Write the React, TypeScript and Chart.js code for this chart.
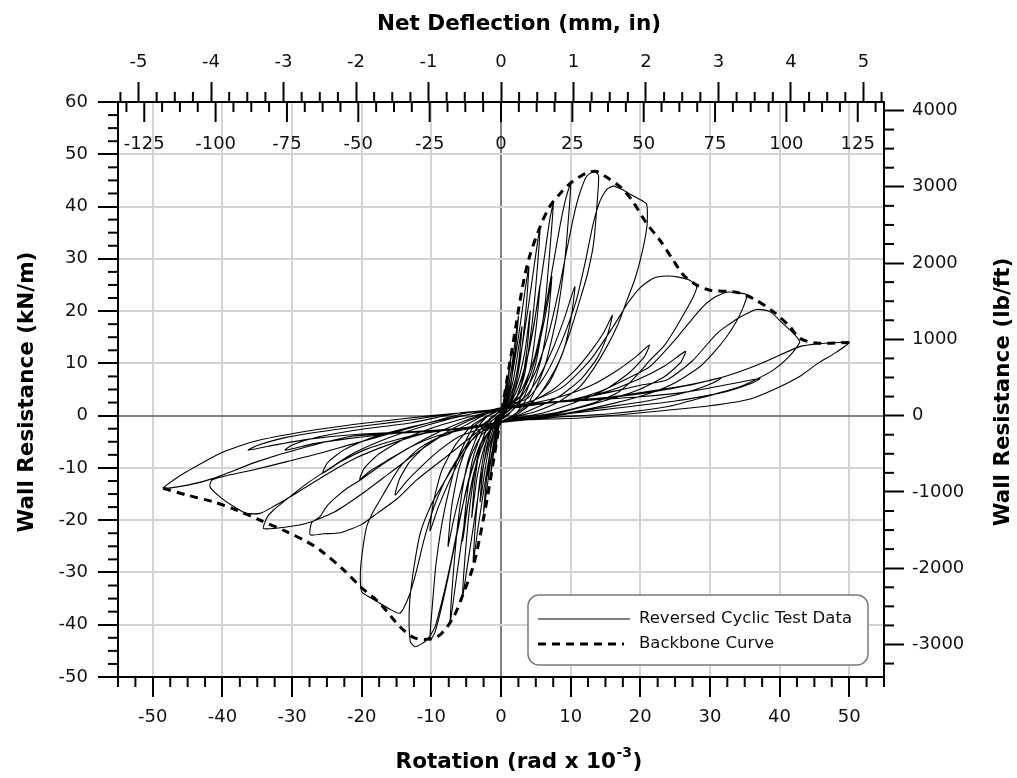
import React, { useEffect, useRef } from 'react';
import { Chart, registerables } from 'chart.js';

Chart.register(...registerables);

type Pt = [number, number];

// ---------- axis / label data ----------
const ROTATION_TICKS = [-50, -40, -30, -20, -10, 0, 10, 20, 30, 40, 50];
const KN_TICKS = [-50, -40, -30, -20, -10, 0, 10, 20, 30, 40, 50, 60];
const LBFT_TICKS = [-3000, -2000, -1000, 0, 1000, 2000, 3000, 4000];
const INCH_TICKS = [-5, -4, -3, -2, -1, 0, 1, 2, 3, 4, 5];
const MM_TICKS = [-125, -100, -75, -50, -25, 0, 25, 50, 75, 100, 125];
const LEGEND_LABELS = ['Reversed Cyclic Test Data', 'Backbone Curve'];
const TITLE_TOP = 'Net Deflection (mm, in)';
const TITLE_BOTTOM = ['Rotation (rad x 10', '-3', ')'];
const TITLE_LEFT = 'Wall Resistance (kN/m)';
const TITLE_RIGHT = 'Wall Resistance (lb/ft)';

const ROT_MIN = -55;
const ROT_MAX = 55;
const KN_MIN = -50;
const KN_MAX = 60;
const WALL_HEIGHT_MM = 2440;
const KNM_TO_LBFT = 68.5218;

// ---------- test data: [rotation (rad x 1e-3), resistance (kN/m)] ----------
const cycleA: Pt[] = [[0, 0], [0.4, 3], [0.8, 6.5], [0.5, 4], [0.1, 0.5], [-0.4, -3], [-0.8, -6.5], [-0.5, -4], [-0.1, -0.5]];
const cycleB: Pt[] = [[0.3, 1.5], [0.8, 5.5], [1.5, 12], [1.2, 8.5], [0.6, 3], [0, 0], [-0.8, -5], [-1.5, -11.5], [-1.2, -8], [-0.6, -2.5], [0, 0.3]];
const cycleC: Pt[] = [[0.6, 2.5], [1.5, 9], [2.5, 19], [2.1, 13], [1.3, 5], [0.3, 0.3], [-0.7, -3], [-1.5, -9], [-2.5, -18.5], [-2.1, -12.5], [-1.3, -4.5], [-0.3, -0.2]];
const cycleC2: Pt[] = [[0.6, 2], [1.9, 12], [1.5, 7], [0.6, 1.5], [-0.6, -2], [-1.9, -11.5], [-1.5, -6.5], [-0.6, -1.2]];
const cycleD: Pt[] = [[0.5, 1.5], [1.5, 7], [2.5, 15], [3.3, 22.5], [4, 28.5], [3.6, 20.5], [2.8, 11], [1.8, 4], [0.6, 0.5], [-0.5, -1.2], [-1.5, -6.5], [-2.5, -14.5], [-3.3, -21.5], [-4, -28], [-3.6, -19.5], [-2.8, -10], [-1.8, -3.5], [-0.6, -0.3]];
const cycleD2: Pt[] = [[0.6, 1.5], [1.8, 7], [3, 17], [2.6, 11], [1.6, 4], [0.4, 0.3], [-0.6, -1.5], [-1.8, -6.5], [-3, -16.5], [-2.6, -10.5], [-1.6, -3.5], [-0.4, -0.2]];
const cycleE: Pt[] = [[0.7, 1.5], [2, 6.5], [3, 13], [4, 21.5], [4.8, 29], [5.6, 36.1], [5.2, 28], [4.5, 18], [3.4, 8], [2, 2.5], [0.5, 0.2], [-0.8, -1.5], [-2, -6.5], [-3, -13], [-4, -21.5], [-4.8, -28.5], [-5.5, -34.5], [-5.1, -26], [-4.4, -16.5], [-3.3, -7.5], [-1.9, -2], [-0.5, 0]];
const cycleE2: Pt[] = [[0.8, 1.2], [2.2, 5.5], [3.4, 12], [4.2, 20], [3.8, 13.5], [3, 6.5], [1.6, 1.5], [0.2, 0], [-0.8, -1.2], [-2.2, -5.2], [-3.4, -11.5], [-4.2, -19.5], [-3.8, -13], [-3, -6], [-1.6, -1.3], [-0.2, 0]];
const cycleF: Pt[] = [[1, 1.5], [2.5, 5.5], [4, 12.5], [5.3, 22], [6.3, 31], [7, 37.5], [7.5, 40.5], [7.1, 33], [6.3, 21], [5, 10], [3.3, 3.5], [1.5, 0.8], [0, -0.6], [-1, -1.6], [-2.5, -5], [-4, -11.5], [-5.3, -21], [-6.3, -30], [-7, -37], [-7.3, -39.5], [-6.9, -31], [-6.1, -19.5], [-4.8, -9], [-3.1, -3], [-1.3, -0.2], [0, 0.8]];
const cycleF2: Pt[] = [[0.8, 1.4], [2.2, 4.5], [3.6, 10], [4.7, 17], [5.6, 25], [5.1, 17.5], [4.2, 9], [2.6, 2.8], [1, 0.1], [0, -0.8], [-0.8, -1.3], [-2.2, -4.3], [-3.6, -9.5], [-4.7, -16.5], [-5.5, -24], [-5, -16.5], [-4.1, -8.5], [-2.5, -2.5], [-1, 0], [0, 1]];
const cycleG: Pt[] = [[1.2, 2], [3, 5], [4.8, 11], [6.3, 20], [7.5, 29], [8.5, 36.5], [9.3, 41.5], [10, 44.4], [9.7, 38], [9.1, 29], [8, 19], [6.3, 9.5], [4, 2.5], [2, 0.3], [0, -1.2], [-1.2, -2.2], [-3, -5.5], [-4.8, -13], [-6.3, -22.5], [-7.6, -31], [-8.6, -37], [-9.5, -41.5], [-10.2, -43], [-9.9, -37], [-9.3, -28], [-8.1, -18], [-6.3, -8.5], [-4, -2.2], [-2, -0.2], [0, 1.2]];
const cycleG2: Pt[] = [[1, 2], [2.8, 3.8], [4.4, 8.5], [5.7, 15], [6.7, 21.5], [7.3, 26.6], [6.8, 19], [5.8, 11], [4.2, 4.5], [2.2, 0.5], [0, -1.2], [-1, -1.9], [-2.8, -3.7], [-4.4, -8], [-5.8, -14.5], [-6.9, -20.5], [-7.6, -25], [-7.1, -17.5], [-6, -10], [-4.3, -4], [-2.2, -0.4], [0, 1.2]];
const cycleH: Pt[] = [[1.2, 2], [3, 3.8], [5, 8.5], [6.8, 15.5], [8.3, 24], [9.5, 32], [10.5, 38.5], [11.3, 42.5], [12.3, 45.8], [13.3, 46.7], [14, 46], [13.8, 40.6], [13.3, 33], [12.4, 27], [11.3, 22], [9.8, 15.5], [8, 9.4], [5.5, 4], [2.5, 0.4], [0, -1.3], [-1.2, -2.4], [-2.8, -5.2], [-4.3, -11], [-5.9, -19.5], [-7.2, -28], [-8.3, -34.5], [-9.5, -40.5], [-10.7, -43], [-12.3, -44.2], [-13, -43.3], [-13.2, -40], [-13.1, -35.3], [-12.5, -29], [-11.6, -22.5], [-10, -17], [-8.3, -13], [-6, -8], [-3.5, -2.6], [-1, -0.2], [0, 1.2]];
const cycleH2: Pt[] = [[1.5, 2], [3.5, 3.6], [5.5, 7.5], [7.5, 13], [9.2, 19], [10.6, 24.7], [10.1, 19], [9, 12.5], [7, 6.5], [4.5, 2.5], [2, 0], [0, -1.3], [-1.5, -2.3], [-3.5, -3.6], [-5.5, -7.5], [-7.4, -12.5], [-9, -17.5], [-10.2, -22], [-9.7, -16.5], [-8.5, -10.5], [-6.5, -5.5], [-4, -1.7], [-1.5, 0.3], [0, 1.2]];
const cycleI: Pt[] = [[1.5, 2], [4, 3.5], [6.5, 8], [8.8, 14.5], [10.8, 22], [12.2, 30], [13.2, 36.5], [14.2, 41], [15.2, 43.3], [16.2, 43.9], [17.5, 43.2], [18.5, 42.4], [19.6, 41.6], [20.9, 40.5], [21, 37], [20.7, 34], [20, 29.8], [19.2, 26], [18.1, 22.1], [16.8, 17.5], [15.2, 13.2], [13.3, 9], [11.3, 5.5], [8.5, 2.8], [5, 0.8], [2, -0.3], [0, -1.4], [-2.5, -2.8], [-5, -5.8], [-7.5, -11], [-9.5, -17], [-11, -23.5], [-12.2, -30], [-13.2, -34.5], [-14.5, -37.8], [-16, -37], [-17.4, -35.9], [-18.8, -34.8], [-20, -33.7], [-20.2, -30.2], [-19.9, -26], [-19.3, -21.3], [-18.4, -18.5], [-17.4, -16.2], [-16, -13], [-14.5, -9.8], [-12, -6.5], [-9.5, -4.5], [-7.3, -3.4], [-4.5, -1.4], [-2, 0.4], [0, 1.4]];
const cycleI2: Pt[] = [[1.5, 1.8], [4.5, 2.8], [7.5, 5], [10.5, 8.5], [13, 12.5], [14.8, 16], [16, 19.2], [15.3, 15.5], [13.8, 11], [11.5, 7], [8.5, 3.8], [5, 1.5], [2, -0.2], [0, -1.3], [-3, -2.6], [-6, -4], [-9, -6.8], [-11.5, -9.8], [-13.5, -12.5], [-15.2, -15.2], [-14.6, -12.2], [-13.2, -9], [-11, -6], [-8, -3.3], [-4.5, -0.9], [-1.5, 0.6], [0, 1.4]];
const cycleJ: Pt[] = [[1, 1.6], [4, 2.6], [8.9, 5.5], [12.8, 10.6], [16.1, 17], [18.2, 21.5], [20, 24.5], [21.9, 26.3], [23.8, 26.7], [25.5, 26.5], [27.1, 25.9], [28.1, 24.7], [27.6, 22.7], [26.5, 20], [25.2, 17], [23.5, 13.5], [21.4, 10.6], [19, 7], [16.6, 4.3], [13, 2.3], [8, 0.6], [3, -0.4], [0, -1.3], [-2.5, -2.3], [-4.9, -4.7], [-8, -8], [-12.1, -12.3], [-15, -16], [-17.8, -18.7], [-20, -20.8], [-23.1, -22.4], [-25.5, -22.6], [-27.4, -22.8], [-27.2, -20.5], [-26, -19.3], [-25, -17.3], [-23.6, -15.5], [-22, -13.8], [-20.2, -12.3], [-17, -9.3], [-13, -6], [-9, -3.2], [-5, -0.9], [-2, 0.6], [0, 1.4]];
const cycleJ2: Pt[] = [[1.5, 1.7], [5, 2.5], [9, 3.8], [13, 5.8], [16.5, 8.5], [19.3, 11.2], [21.3, 13.5], [20.6, 11.3], [18.5, 8.3], [15, 5], [11, 2.7], [6, 0.5], [2, -0.5], [0, -1.2], [-1.5, -1.8], [-5, -2.6], [-9, -3.8], [-13, -6], [-16.5, -8.7], [-18.8, -10.6], [-20.3, -12.2], [-19.6, -10], [-17.5, -7.3], [-14, -4.5], [-10, -2.4], [-5, -0.4], [-1.5, 0.8], [0, 1.5]];
const cycleK: Pt[] = [[2, 1.5], [5, 2.1], [10, 3], [14.2, 4.6], [18, 7], [21.4, 9.4], [25, 14.5], [28.6, 20.3], [30.5, 22.5], [32.4, 23.6], [34, 23.5], [35.3, 23.1], [34.8, 20.8], [33.8, 18], [32.4, 15.1], [30.5, 12], [28.6, 9.4], [25, 6.3], [21.4, 4.3], [16, 2.3], [10, 0.6], [4, -0.5], [0, -1.2], [-4, -2], [-8, -3.5], [-12, -7], [-16, -11], [-20, -15], [-24, -18.5], [-27.9, -20.6], [-30.8, -21.3], [-34.1, -21.6], [-33.6, -19.5], [-32.7, -18.1], [-30.3, -15.5], [-27.9, -13], [-24.5, -10], [-21.2, -7.2], [-16, -4.2], [-10, -1.6], [-4, 0.4], [0, 1.2]];
const cycleK2: Pt[] = [[1, 1.6], [5, 2.3], [10, 3], [15, 4.5], [19.5, 6.8], [23.5, 9.5], [26.5, 12.3], [25.8, 10.2], [23.5, 7.5], [19.5, 4.8], [14, 2.5], [8, 0.4], [3, -0.6], [0, -1.3], [-5, -2.4], [-10, -3.1], [-15, -4.6], [-19.5, -6.5], [-23, -8.8], [-25.6, -11], [-24.9, -9], [-22.5, -6.5], [-18.5, -4.2], [-13, -2.2], [-7, -0.4], [-2, 0.9], [0, 1.5]];
const cycleL: Pt[] = [[2, 1.6], [6, 2.3], [11, 3.2], [16, 4.6], [20, 5.8], [23.8, 6.8], [27.5, 10.5], [31, 15.7], [34, 18.6], [36.7, 20.3], [38.6, 19.9], [40.5, 17.6], [42.1, 15.6], [42.9, 14.1], [41.5, 11.5], [39.1, 8.7], [36.6, 6.9], [34.3, 5.5], [29, 3.5], [23.8, 1.7], [16, 0.4], [8, -0.3], [2, -1], [0, -1.3], [-2, -1.7], [-6, -2.5], [-11, -3.4], [-16, -5.5], [-21, -8.2], [-25, -11.2], [-29, -14.5], [-32.7, -17.4], [-34.6, -18.7], [-36.6, -18.7], [-38.5, -17.3], [-40.4, -15.5], [-41.8, -13.6], [-41.5, -12.3], [-38.5, -11.2], [-35.6, -10.4], [-30.5, -8.7], [-26, -7.2], [-21.5, -5.5], [-17.4, -4], [-11, -1.6], [-5, 0.5], [0, 1.3]];
const cycleL2: Pt[] = [[5, 2.2], [10, 2.8], [16, 3.5], [22, 4.6], [27, 5.8], [31.7, 7.3], [30.5, 6.3], [27, 4.6], [21, 2.8], [14, 1.4], [7, -0.2], [1, -1.1], [0, -1.3], [-4, -2.2], [-10, -3], [-16, -3.5], [-22, -4.4], [-27, -5.4], [-31, -6.6], [-30, -5.6], [-26, -4], [-20, -2.6], [-13, -1.4], [-6, 0.5], [0, 1.2]];
const cycleM: Pt[] = [[5, 2.3], [10, 2.9], [16, 3.6], [22, 4.8], [27, 5.9], [31.9, 7.4], [37, 9.8], [42.9, 13.2], [46, 13.8], [48.5, 14], [50, 14], [48, 12], [45.5, 10], [43, 7.6], [39.5, 5.2], [35.8, 3.2], [30, 1.9], [22, 0.8], [12, -0.4], [4, -0.8], [0, -1.2], [-5, -2.3], [-10, -3], [-15.5, -3.4], [-21.2, -3.9], [-28, -6], [-35, -8.8], [-41.3, -12], [-45, -13.3], [-48.5, -13.9], [-47, -12.3], [-45.1, -10.7], [-40.3, -7.2], [-35.6, -5], [-28, -3], [-20, -1.5], [-10, 0], [-2, 1], [0, 1.4]];
const cycleM2: Pt[] = [[5, 2.3], [12, 2.9], [20, 3.6], [27, 4.6], [32, 5.8], [37.2, 7.1], [36, 6.2], [32, 4.5], [25, 2.8], [15, 1.2], [6, -0.2], [0, -1.2], [-5, -2.3], [-12, -3], [-20, -3.5], [-27, -4.4], [-32, -5.5], [-36.3, -6.6], [-35, -5.7], [-31, -4.2], [-24, -2.7], [-15, -1.2], [-6, 0.5], [0, 1]];

const backbone: Pt[] = [[-48.5, -13.9], [-45.1, -15.2], [-41.3, -16.5], [-37.9, -18.1], [-34.6, -20], [-30.8, -22.2], [-27.9, -24.1], [-26, -25.7], [-22.6, -29.5], [-20.2, -32.7], [-17.4, -35.9], [-14.5, -40.4], [-12.6, -42.4], [-10.7, -42.8], [-8.8, -42], [-6.8, -38.5], [-5.4, -34], [-4, -28.9], [-3, -23], [-2, -16], [-1, -8], [0, 0], [1, 8], [2, 16], [3, 24], [4, 30], [5.6, 36.1], [7, 40], [8.5, 42.5], [9.9, 44.4], [11.3, 45.7], [12.5, 46.5], [13.7, 46.7], [15.3, 45.5], [17.1, 43.8], [18.8, 41.2], [20.9, 36.8], [22.8, 33.6], [24.7, 29.8], [26.2, 26.9], [28.1, 25], [30, 24], [33.8, 23.6], [36.2, 22.4], [39.1, 19.9], [41.5, 17], [42.9, 14.8], [45.3, 13.9], [50.1, 14]];

const testCycles: Pt[][] = [cycleA, cycleB, cycleC, cycleC2, cycleD, cycleD2, cycleE, cycleE2, cycleF, cycleF2, cycleG, cycleG2, cycleH, cycleH2, cycleI, cycleI2, cycleJ, cycleJ2, cycleK, cycleK2, cycleL, cycleL2, cycleM, cycleM2];

const FONT = 'DejaVu Sans';

const decorPlugin = {
  id: 'decor',
  beforeDraw(chart: any) {
    const ctx = chart.ctx;
    ctx.save();
    ctx.fillStyle = '#ffffff';
    ctx.fillRect(0, 0, chart.width, chart.height);
    ctx.restore();
  },
  afterDraw(chart: any) {
    const ctx: CanvasRenderingContext2D = chart.ctx;
    const { left, right, top, bottom } = chart.chartArea;
    const sx = chart.scales.x;
    const sy = chart.scales.y;
    const sy2 = chart.scales.y2;
    const sin = chart.scales.xin;
    ctx.save();
    ctx.strokeStyle = '#000';
    ctx.lineWidth = 2;
    const seg = (x1: number, y1: number, x2: number, y2: number) => {
      ctx.beginPath();
      ctx.moveTo(x1, y1);
      ctx.lineTo(x2, y2);
      ctx.stroke();
    };
    // bottom minor ticks (every 2.5)
    for (let i = -22; i <= 22; i++) {
      if (i % 4 === 0) continue;
      const px = sx.getPixelForValue(i * 2.5);
      seg(px, bottom, px, bottom + 10);
    }
    // left minor ticks
    for (let i = -20; i <= 24; i++) {
      if (i % 4 === 0) continue;
      const py = sy.getPixelForValue(i * 2.5);
      seg(left - 10, py, left, py);
    }
    // right minor ticks (every 250 lb/ft)
    for (let i = -13; i <= 16; i++) {
      if (i % 4 === 0) continue;
      const py = sy2.getPixelForValue(i * 250);
      seg(right, py, right + 10, py);
    }
    // top inch minor ticks
    for (let i = -21; i <= 21; i++) {
      if (i % 4 === 0) continue;
      const px = sin.getPixelForValue(i * 0.25);
      seg(px, top - 10, px, top);
    }
    // mm ticks pointing into the plot
    for (let i = -21; i <= 21; i++) {
      const mm = i * 6.25;
      const px = sx.getPixelForValue((mm / WALL_HEIGHT_MM) * 1000);
      seg(px, top, px, top + (i % 4 === 0 ? 20 : 10));
    }
    // mm labels
    ctx.fillStyle = '#111';
    ctx.font = `18px "${FONT}"`;
    ctx.textAlign = 'center';
    ctx.textBaseline = 'middle';
    for (const mm of MM_TICKS) {
      const px = sx.getPixelForValue((mm / WALL_HEIGHT_MM) * 1000);
      ctx.fillText(String(mm), px, top + 42);
    }

    // titles
    ctx.fillStyle = '#000';
    ctx.font = `bold 21.5px "${FONT}"`;
    ctx.textAlign = 'center';
    ctx.textBaseline = 'alphabetic';
    ctx.fillText(TITLE_TOP, 519, 29.5);

    // bottom title with superscript
    const mainFont = `bold 21.5px "${FONT}"`;
    const supFont = `bold 14px "${FONT}"`;
    ctx.font = mainFont;
    const w1 = ctx.measureText(TITLE_BOTTOM[0]).width;
    const w3 = ctx.measureText(TITLE_BOTTOM[2]).width;
    ctx.font = supFont;
    const w2 = ctx.measureText(TITLE_BOTTOM[1]).width;
    let bx = 519 - (w1 + w2 + w3 + 1) / 2;
    ctx.textAlign = 'left';
    ctx.font = mainFont;
    ctx.fillText(TITLE_BOTTOM[0], bx, 768);
    bx += w1 + 0.5;
    ctx.font = supFont;
    ctx.fillText(TITLE_BOTTOM[1], bx, 757);
    bx += w2 + 0.5;
    ctx.font = mainFont;
    ctx.fillText(TITLE_BOTTOM[2], bx, 768);

    // vertical titles
    ctx.textAlign = 'center';
    ctx.save();
    ctx.translate(33, 392);
    ctx.rotate(-Math.PI / 2);
    ctx.fillText(TITLE_LEFT, 0, 0);
    ctx.restore();
    ctx.save();
    ctx.translate(1009, 392);
    ctx.rotate(-Math.PI / 2);
    ctx.fillText(TITLE_RIGHT, 0, 0);
    ctx.restore();

    // legend box
    const lx = right - 356;
    const ly = bottom - 82;
    const lw = 340;
    const lh = 70;
    const r = 11;
    ctx.beginPath();
    ctx.moveTo(lx + r, ly);
    ctx.lineTo(lx + lw - r, ly);
    ctx.arcTo(lx + lw, ly, lx + lw, ly + r, r);
    ctx.lineTo(lx + lw, ly + lh - r);
    ctx.arcTo(lx + lw, ly + lh, lx + lw - r, ly + lh, r);
    ctx.lineTo(lx + r, ly + lh);
    ctx.arcTo(lx, ly + lh, lx, ly + lh - r, r);
    ctx.lineTo(lx, ly + r);
    ctx.arcTo(lx, ly, lx + r, ly, r);
    ctx.closePath();
    ctx.fillStyle = '#fff';
    ctx.fill();
    ctx.strokeStyle = '#7a7a7a';
    ctx.lineWidth = 1.5;
    ctx.stroke();

    ctx.strokeStyle = '#000';
    ctx.lineWidth = 1;
    seg(lx + 10, ly + 24, lx + 102, ly + 24);
    ctx.lineWidth = 3;
    ctx.setLineDash([8, 6]);
    seg(lx + 10, ly + 49, lx + 96, ly + 49);
    ctx.setLineDash([]);

    ctx.fillStyle = '#111';
    ctx.font = `16.5px "${FONT}"`;
    ctx.textAlign = 'left';
    ctx.textBaseline = 'middle';
    ctx.fillText(LEGEND_LABELS[0], lx + 111, ly + 24);
    ctx.fillText(LEGEND_LABELS[1], lx + 111, ly + 49);
    ctx.restore();
  },
};

const gridColor = (c: any) => (c.tick && c.tick.value === 0 ? '#808080' : '#d4d4d4');

export default function App() {
  const ref = useRef<HTMLCanvasElement>(null);

  useEffect(() => {
    document.body.style.margin = '0';
    const testPoints = testCycles.flat().map(([x, y]) => ({ x, y }));
    const backbonePoints = backbone.map(([x, y]) => ({ x, y }));
    const inchRange = (ROT_MAX * WALL_HEIGHT_MM) / 1000 / 25.4;
    const tickFont = { family: FONT, size: 18 };

    const chart = new Chart(ref.current as HTMLCanvasElement, {
      type: 'scatter',
      data: {
        datasets: [
          {
            label: LEGEND_LABELS[0],
            data: testPoints,
            showLine: true,
            borderColor: '#000',
            borderWidth: 1.1,
            pointRadius: 0,
            tension: 0.2,
            order: 2,
            xAxisID: 'x',
            yAxisID: 'y',
          },
          {
            label: LEGEND_LABELS[1],
            data: backbonePoints,
            showLine: true,
            borderColor: '#000',
            borderWidth: 3,
            borderDash: [8, 6],
            pointRadius: 0,
            tension: 0.3,
            order: 1,
            xAxisID: 'x',
            yAxisID: 'y',
          },
        ],
      },
      options: {
        responsive: false,
        animation: false,
        devicePixelRatio: 1,
        layout: { padding: 0, autoPadding: false },
        plugins: { legend: { display: false }, tooltip: { enabled: false } },
        scales: {
          x: {
            type: 'linear',
            position: 'bottom',
            min: ROT_MIN,
            max: ROT_MAX,
            afterBuildTicks: (s: any) => {
              s.ticks = ROTATION_TICKS.map((v) => ({ value: v }));
            },
            afterFit: (s: any) => {
              s.height = 101;
            },
            ticks: { font: tickFont, color: '#111', padding: 10, maxRotation: 0, autoSkip: false, callback: (v: any) => String(v) },
            grid: { color: gridColor, lineWidth: 2, tickLength: 20, tickColor: '#000', tickWidth: 2 },
            border: { color: '#000', width: 2 },
          },
          xin: {
            type: 'linear',
            position: 'top',
            min: -inchRange,
            max: inchRange,
            afterBuildTicks: (s: any) => {
              s.ticks = INCH_TICKS.map((v) => ({ value: v }));
            },
            afterFit: (s: any) => {
              s.height = 102;
            },
            ticks: { font: tickFont, color: '#111', padding: 9, maxRotation: 0, autoSkip: false, callback: (v: any) => String(v) },
            grid: { drawOnChartArea: false, tickLength: 20, tickColor: '#000', tickWidth: 2 },
            border: { color: '#000', width: 2 },
          },
          y: {
            type: 'linear',
            position: 'left',
            min: KN_MIN,
            max: KN_MAX,
            afterBuildTicks: (s: any) => {
              s.ticks = KN_TICKS.map((v) => ({ value: v }));
            },
            afterFit: (s: any) => {
              s.width = 118;
            },
            ticks: { font: tickFont, color: '#111', padding: 10, autoSkip: false, callback: (v: any) => String(v) },
            grid: { color: gridColor, lineWidth: 2, tickLength: 20, tickColor: '#000', tickWidth: 2 },
            border: { color: '#000', width: 2 },
          },
          y2: {
            type: 'linear',
            position: 'right',
            min: KN_MIN * KNM_TO_LBFT,
            max: KN_MAX * KNM_TO_LBFT,
            afterBuildTicks: (s: any) => {
              s.ticks = LBFT_TICKS.map((v) => ({ value: v }));
            },
            afterFit: (s: any) => {
              s.width = 133;
            },
            ticks: { font: tickFont, color: '#111', padding: 8, autoSkip: false, callback: (v: any) => String(v) },
            grid: { drawOnChartArea: false, tickLength: 20, tickColor: '#000', tickWidth: 2 },
            border: { color: '#000', width: 2 },
          },
        },
      } as any,
      plugins: [decorPlugin],
    });
    return () => chart.destroy();
  }, []);

  return (
    <div style={{ position: 'absolute', left: 0, top: 0, width: 1017, height: 778, background: '#fff' }}>
      <canvas ref={ref} width={1017} height={778} style={{ display: 'block' }} />
    </div>
  );
}
